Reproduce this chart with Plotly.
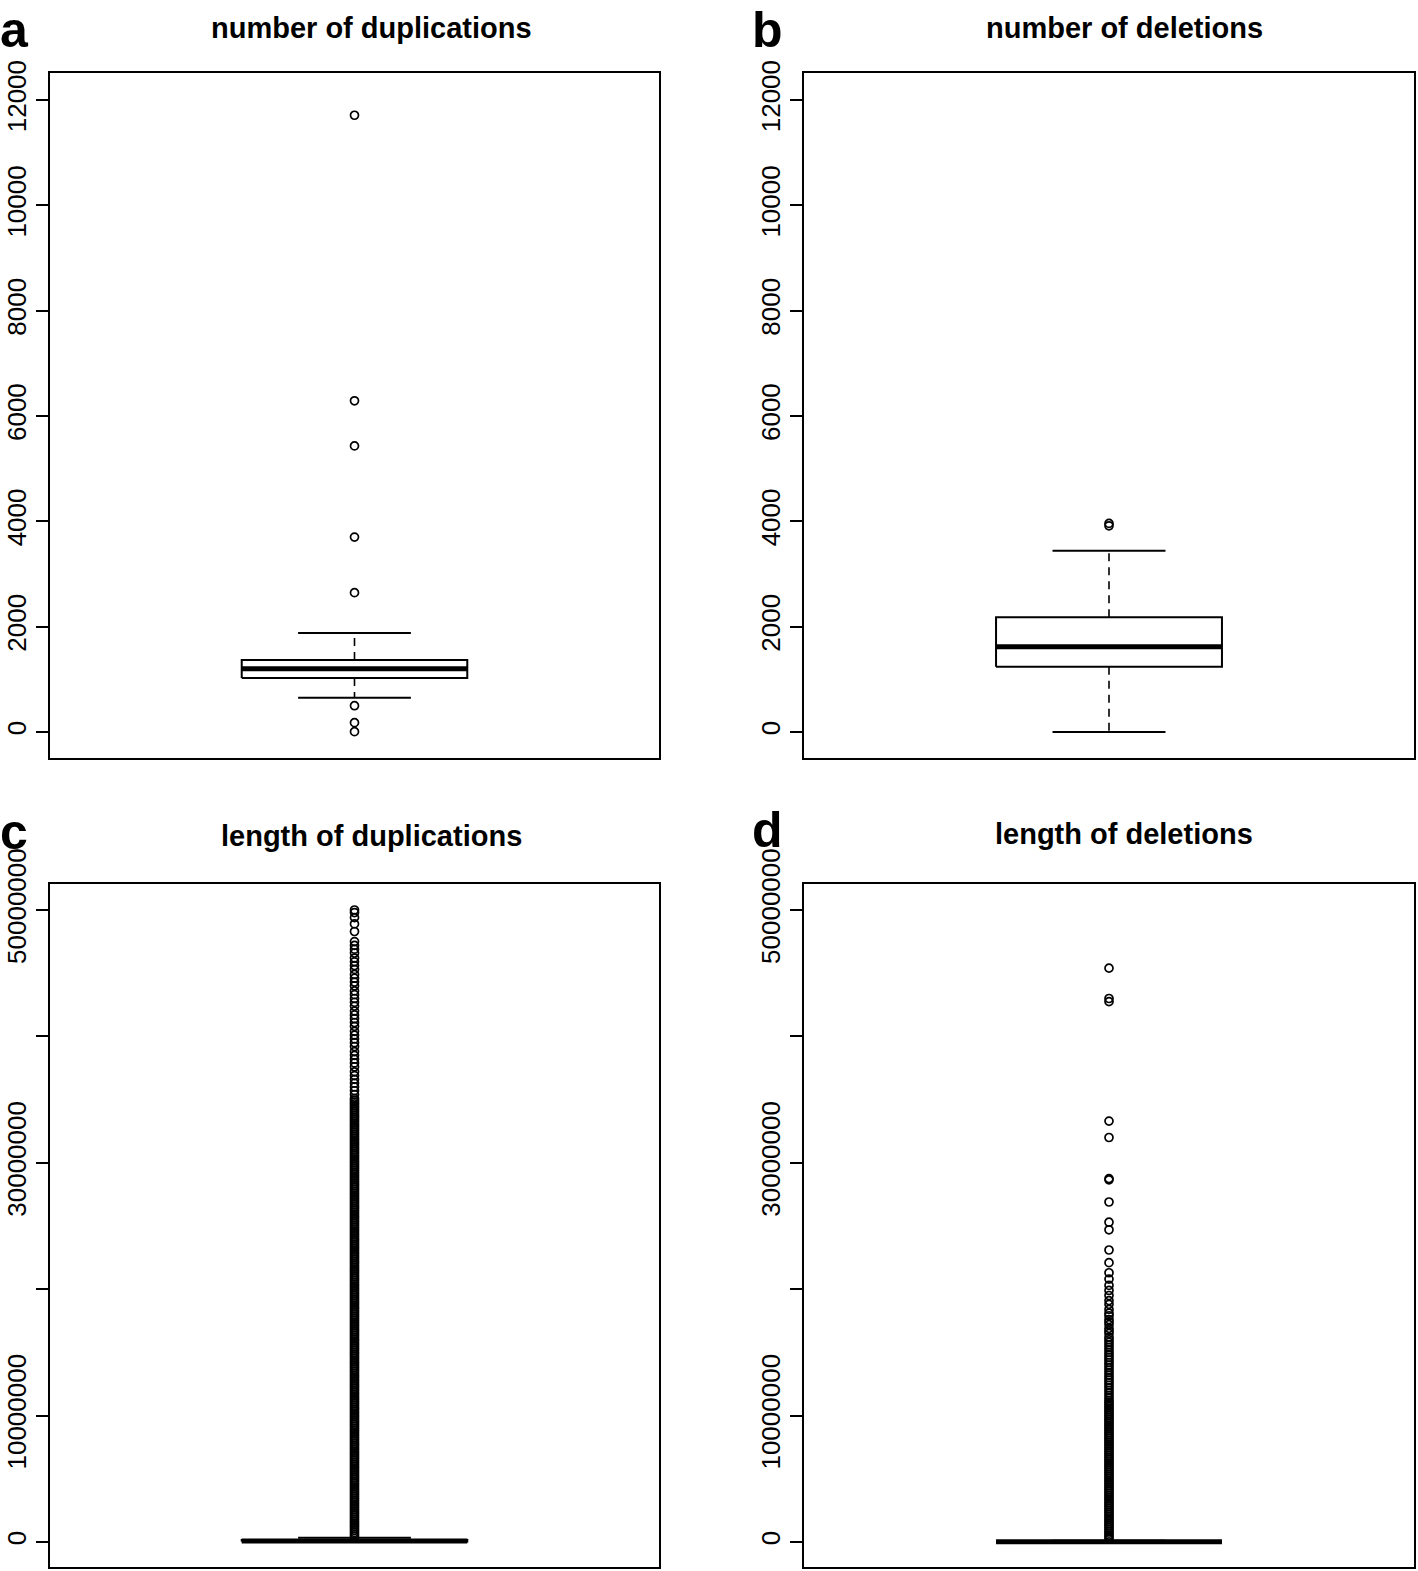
import plotly.graph_objects as go

W, H = 1418, 1571
MB = 1e6

panel_letters = ["a", "b", "c", "d"]
panel_titles = ["number of duplications", "number of deletions",
                "length of duplications", "length of deletions"]

# box statistics: [lower whisker, q1, median, q3, upper whisker]
dup_count_box = [651, 1025, 1202, 1367, 1880]
dup_count_outliers = [11711, 6289, 5432, 3701, 2645, 499, 177, 6]

del_count_box = [0, 1240, 1620, 2178, 3442]
del_count_outliers = [3960, 3915]

dup_length_box = [1000, 30000, 80000, 150000, 340000]
dup_length_outliers_mb = [
    50.0, 49.8, 49.4, 48.9, 48.3, 47.5, 47.2, 46.9, 46.6, 46.2,
    45.9, 45.6, 45.3, 44.9, 44.6, 44.3, 44.0, 43.6, 43.3, 43.0,
    42.7, 42.4, 42.0, 41.7, 41.4, 41.1, 40.8, 40.4, 40.1, 39.8,
    39.5, 39.2, 38.8, 38.5, 38.2, 37.9, 37.6, 37.2, 36.9, 36.6,
    36.3, 36.0, 35.7, 35.4, 35.1, 34.95,
    34.80, 34.65, 34.50, 34.35, 34.20, 34.05, 33.90, 33.75, 33.60, 33.45,
    33.30, 33.15, 33.00, 32.85, 32.70, 32.55, 32.40, 32.25, 32.10, 31.95,
    31.80, 31.65, 31.50, 31.35, 31.20, 31.05, 30.90, 30.75, 30.60, 30.45,
    30.30, 30.15, 30.00, 29.85, 29.70, 29.55, 29.40, 29.25, 29.10, 28.95,
    28.80, 28.65, 28.50, 28.35, 28.20, 28.05, 27.90, 27.75, 27.60, 27.45,
    27.30, 27.15, 27.00, 26.85, 26.70, 26.55, 26.40, 26.25, 26.10, 25.95,
    25.80, 25.65, 25.50, 25.35, 25.20, 25.05, 24.90, 24.75, 24.60, 24.45,
    24.30, 24.15, 24.00, 23.85, 23.70, 23.55, 23.40, 23.25, 23.10, 22.95,
    22.80, 22.65, 22.50, 22.35, 22.20, 22.05, 21.90, 21.75, 21.60, 21.45,
    21.30, 21.15, 21.00, 20.85, 20.70, 20.55, 20.40, 20.25, 20.10, 19.95,
    19.80, 19.65, 19.50, 19.35, 19.20, 19.05, 18.90, 18.75, 18.60, 18.45,
    18.30, 18.15, 18.00, 17.85, 17.70, 17.55, 17.40, 17.25, 17.10, 16.95,
    16.80, 16.65, 16.50, 16.35, 16.20, 16.05, 15.90, 15.75, 15.60, 15.45,
    15.30, 15.15, 15.00, 14.85, 14.70, 14.55, 14.40, 14.25, 14.10, 13.95,
    13.80, 13.65, 13.50, 13.35, 13.20, 13.05, 12.90, 12.75, 12.60, 12.45,
    12.30, 12.15, 12.00, 11.85, 11.70, 11.55, 11.40, 11.25, 11.10, 10.95,
    10.80, 10.65, 10.50, 10.35, 10.20, 10.05, 9.90, 9.75, 9.60, 9.45,
    9.30, 9.15, 9.00, 8.85, 8.70, 8.55, 8.40, 8.25, 8.10, 7.95,
    7.80, 7.65, 7.50, 7.35, 7.20, 7.05, 6.90, 6.75, 6.60, 6.45,
    6.30, 6.15, 6.00, 5.85, 5.70, 5.55, 5.40, 5.25, 5.10, 4.95,
    4.80, 4.65, 4.50, 4.35, 4.20, 4.05, 3.90, 3.75, 3.60, 3.45,
    3.30, 3.15, 3.00, 2.85, 2.70, 2.55, 2.40, 2.25, 2.10, 1.95,
    1.80, 1.65, 1.50, 1.35, 1.20, 1.05, 0.90, 0.75, 0.60, 0.45,
]

del_length_box = [100, 5000, 20000, 45000, 100000]
del_length_outliers_mb = [
    45.4, 43.0, 42.75, 33.3, 32.0, 28.75, 28.65, 26.9, 25.3, 24.7,
    23.1, 22.1, 21.3, 20.8, 20.3, 19.9, 19.5, 19.1, 18.8, 18.4,
    18.1, 17.9, 17.6, 17.4, 17.2, 16.9, 16.7, 16.5, 16.2, 16.0,
    15.8, 15.6, 15.4, 15.2, 15.0, 14.8, 14.6, 14.4, 14.2, 14.0,
    13.8, 13.6, 13.4, 13.2, 13.0, 12.8, 12.6, 12.4, 12.2, 12.0,
    11.8, 11.6, 11.4, 11.2, 11.05, 10.90, 10.75, 10.60, 10.45, 10.30,
    10.15, 10.00, 9.85, 9.70, 9.55, 9.40, 9.25, 9.10, 8.95, 8.80,
    8.65, 8.50, 8.35, 8.20, 8.05, 7.90, 7.75, 7.60, 7.45, 7.30,
    7.15, 7.00, 6.85, 6.70, 6.55, 6.40, 6.25, 6.10, 5.95, 5.80,
    5.65, 5.50, 5.35, 5.20, 5.05, 4.90, 4.75, 4.60, 4.45, 4.30,
    4.15, 4.00, 3.85, 3.70, 3.55, 3.40, 3.25, 3.10, 2.95, 2.80,
    2.65, 2.50, 2.35, 2.20, 2.05, 1.90, 1.75, 1.60, 1.45, 1.30,
    1.15, 1.00, 0.85, 0.70, 0.55, 0.40, 0.25,
]

count_tickvals = [0, 2000, 4000, 6000, 8000, 10000, 12000]
count_ticktext = ["0", "2000", "4000", "6000", "8000", "10000", "12000"]
length_tickvals = [0, 10000000, 20000000, 30000000, 40000000, 50000000]
length_ticktext = ["0", "10000000", "", "30000000", "", "50000000"]

category_x = 1

panels = [
    (dup_count_box, dup_count_outliers),
    (del_count_box, del_count_outliers),
    (dup_length_box, [v * MB for v in dup_length_outliers_mb]),
    (del_length_box, [v * MB for v in del_length_outliers_mb]),
]

FONT = "Liberation Sans, Arial, Helvetica, sans-serif"

# pixel geometry of plotting regions (left, right, top, bottom)
regions = [(50, 659, 73, 758), (804, 1414, 73, 758),
           (50, 659, 884, 1567), (804, 1414, 884, 1567)]
yranges = [[-494, 12513], [-494, 12513],
           [-1.978e6, 5.2057e7], [-1.978e6, 5.2057e7]]

fig = go.Figure()
layout = dict(width=W, height=H, margin=dict(l=0, r=0, t=0, b=0, autoexpand=False),
              paper_bgcolor="white", plot_bgcolor="white", showlegend=False)

half_box = 0.2
half_cap = 0.1
for i, ((stats, outl), (l, r, t, b)) in enumerate(zip(panels, regions)):
    n = "" if i == 0 else str(i + 1)
    xa, ya = "x" + n, "y" + n
    lower, q1, med, q3, upper = stats
    c = category_x
    blk = "black"
    fig.add_trace(go.Scatter(x=[c, c, None, c, c], y=[q3, upper, None, q1, lower],
                             mode="lines", line=dict(color=blk, width=1.6, dash="8px,6px"),
                             xaxis=xa, yaxis=ya, hoverinfo="skip"))
    fig.add_trace(go.Scatter(x=[c - half_cap, c + half_cap, None, c - half_cap, c + half_cap],
                             y=[upper, upper, None, lower, lower],
                             mode="lines", line=dict(color=blk, width=2),
                             xaxis=xa, yaxis=ya, hoverinfo="skip"))
    fig.add_trace(go.Scatter(x=[c - half_box, c + half_box, c + half_box, c - half_box, c - half_box],
                             y=[q1, q1, q3, q3, q1], mode="lines",
                             line=dict(color=blk, width=2), fill="toself", fillcolor="white",
                             xaxis=xa, yaxis=ya, hoverinfo="skip"))
    fig.add_trace(go.Scatter(x=[c - half_box, c + half_box], y=[med, med], mode="lines",
                             line=dict(color=blk, width=5),
                             xaxis=xa, yaxis=ya, hoverinfo="skip"))
    fig.add_trace(go.Scatter(x=[c] * len(outl), y=outl, mode="markers",
                             marker=dict(symbol="circle-open", size=8, color=blk,
                                         line=dict(width=1.7)),
                             xaxis=xa, yaxis=ya, hoverinfo="skip", cliponaxis=False))

    axn = "" if i == 0 else str(i + 1)
    layout["xaxis" + axn] = dict(domain=[l / W, r / W], range=[0.46, 1.54],
                                 showgrid=False, zeroline=False, showticklabels=False,
                                 ticks="", showline=True, mirror=True,
                                 linecolor="black", linewidth=1.5, automargin=False,
                                 anchor=ya, fixedrange=True)
    if i < 2:
        tv, tt = count_tickvals, count_ticktext
    else:
        tv, tt = length_tickvals, length_ticktext
    layout["yaxis" + axn] = dict(domain=[1 - b / H, 1 - t / H], range=yranges[i],
                                 showgrid=False, zeroline=False, automargin=False,
                                 tickmode="array", tickvals=tv, ticktext=tt,
                                 ticks="outside", ticklen=12, tickwidth=1.5, tickcolor="black",
                                 tickangle=-90, ticklabelstandoff=0,
                                 tickfont=dict(family=FONT, size=26, color="black"),
                                 showline=True, mirror=True, linecolor="black", linewidth=1.5,
                                 anchor=xa, fixedrange=True)

annotations = []
title_pos = [(371, 28), (1124, 28), (371, 836), (1124, 834)]
letter_pos = [(14, 0), (767, 0), (14, 802), (767, 800)]
for i in range(4):
    tx, ty = title_pos[i]
    annotations.append(dict(text=panel_titles[i], x=tx / W, y=1 - ty / H, xref="paper", yref="paper",
                            xanchor="center", yanchor="middle", showarrow=False,
                            font=dict(family=FONT, size=29, color="black", weight="bold")))
    lx, ly = letter_pos[i]
    annotations.append(dict(text=panel_letters[i], x=lx / W, y=1 - ly / H, xref="paper", yref="paper",
                            xanchor="center", yanchor="top", showarrow=False,
                            font=dict(family=FONT, size=50, color="black", weight="bold")))
layout["annotations"] = annotations

fig.update_layout(**layout)
fig.write_html("out.html", config={"displayModeBar": False},
               post_script="document.body.style.margin='0';")
